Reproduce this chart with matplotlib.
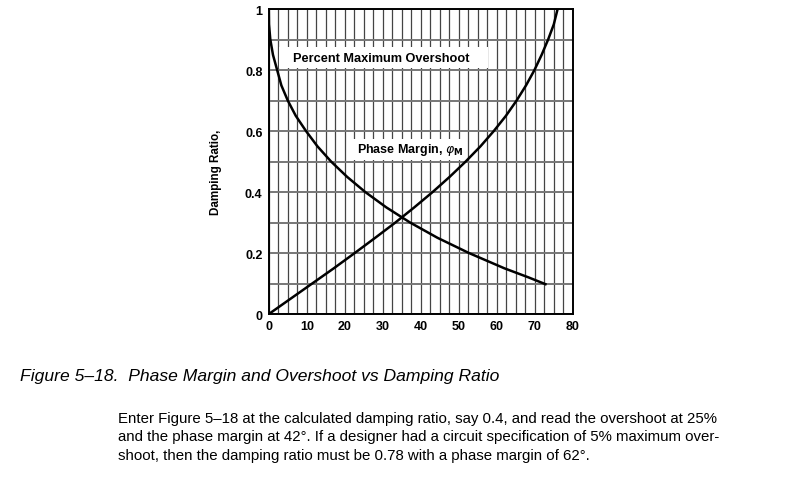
import matplotlib
matplotlib.use("Agg")
import matplotlib.pyplot as plt
from matplotlib.patches import Rectangle
from matplotlib.ticker import MultipleLocator

plt.rcParams['font.family'] = ['Liberation Sans', 'DejaVu Sans']

# percent maximum overshoot vs damping ratio
zeta_os   = [1.0, 0.95, 0.9, 0.85, 0.8, 0.75, 0.7, 0.65, 0.6, 0.55, 0.5,
             0.45, 0.4, 0.35, 0.3, 0.25, 0.2, 0.15, 0.12, 0.098]
overshoot = [0.0, 0.05, 0.4, 1.1, 2.2, 3.3, 5.0, 7.1, 9.8, 12.8, 16.4,
             20.6, 25.4, 30.9, 37.2, 44.4, 52.7, 62.0, 68.4, 72.8]

# phase margin vs damping ratio
zeta_pm = [0.0, 0.05, 0.1, 0.15, 0.2, 0.25, 0.3, 0.35, 0.4, 0.45, 0.5,
           0.55, 0.6, 0.65, 0.7, 0.75, 0.8, 0.85, 0.9, 0.95, 1.0]
phase_m = [0.0, 5.7, 11.4, 17.1, 22.6, 28.0, 33.3, 38.3, 43.1, 47.6, 51.8,
           55.7, 59.2, 62.4, 65.2, 67.7, 69.9, 71.8, 73.5, 75.0, 76.0]

x_ticks = [0, 10, 20, 30, 40, 50, 60, 70, 80]
y_ticks = [0, 0.2, 0.4, 0.6, 0.8, 1.0]
y_labels = ["0", "0.2", "0.4", "0.6", "0.8", "1"]

caption = "Figure 5\u201318.  Phase Margin and Overshoot vs Damping Ratio"
para_lines = [
    "Enter Figure 5\u201318 at the calculated damping ratio, say 0.4, and read the overshoot at 25%",
    "and the phase margin at 42\u00b0. If a designer had a circuit specification of 5% maximum over-",
    "shoot, then the damping ratio must be 0.78 with a phase margin of 62\u00b0.",
]

fig = plt.figure(figsize=(8, 4.81), dpi=100)
ax = fig.add_axes([0.336, 0.345, 0.38, 0.634])

ax.plot(overshoot, zeta_os, color="black", lw=1.8, zorder=3)
ax.plot(phase_m, zeta_pm, color="black", lw=1.8, zorder=3)

ax.set_xlim(0, 80)
ax.set_ylim(0, 1)
ax.set_xticks(x_ticks)
ax.set_yticks(y_ticks)
ax.set_yticklabels(y_labels)
ax.xaxis.set_minor_locator(MultipleLocator(2.5))
ax.yaxis.set_minor_locator(MultipleLocator(0.1))
ax.set_axisbelow(True)
ax.grid(True, which="both", axis="x", color="#444444", lw=0.9)
ax.grid(True, which="both", axis="y", color="#777777", lw=1.4)
ax.tick_params(which="both", length=0, labelsize=9)
ax.tick_params(axis="y", pad=4.5)
ax.tick_params(axis="x", pad=4)
for lab in ax.get_xticklabels() + ax.get_yticklabels():
    lab.set_fontweight("bold")
for sp in ax.spines.values():
    sp.set_linewidth(1.4)

# white label boxes
ax.add_patch(Rectangle((2.6, 0.806), 55.0, 0.07, facecolor="white", edgecolor="none", zorder=2))
ax.text(6.3, 0.839, "Percent Maximum Overshoot", fontsize=9.2, fontweight="bold",
        ha="left", va="center", zorder=4)
ax.add_patch(Rectangle((21.3, 0.505), 30.5, 0.07, facecolor="white", edgecolor="none", zorder=2))
ax.text(23.2, 0.541, r"Phase Margin, $\varphi_\mathbf{M}$", fontsize=9, fontweight="bold",
        ha="left", va="center", zorder=4)

fig.text(216 / 800, 1 - 172 / 481, "Damping Ratio,", rotation=90, fontsize=8.4,
         fontweight="bold", ha="center", va="center")

fig.text(20 / 800, 1 - 377 / 481, caption, fontsize=12.6, style="italic", ha="left", va="center")
for i, line in enumerate(para_lines):
    fig.text(118 / 800, 1 - (423 + 18.5 * i) / 481, line, fontsize=10.8,
             ha="left", va="baseline")

fig.savefig("out.png", dpi=100)
